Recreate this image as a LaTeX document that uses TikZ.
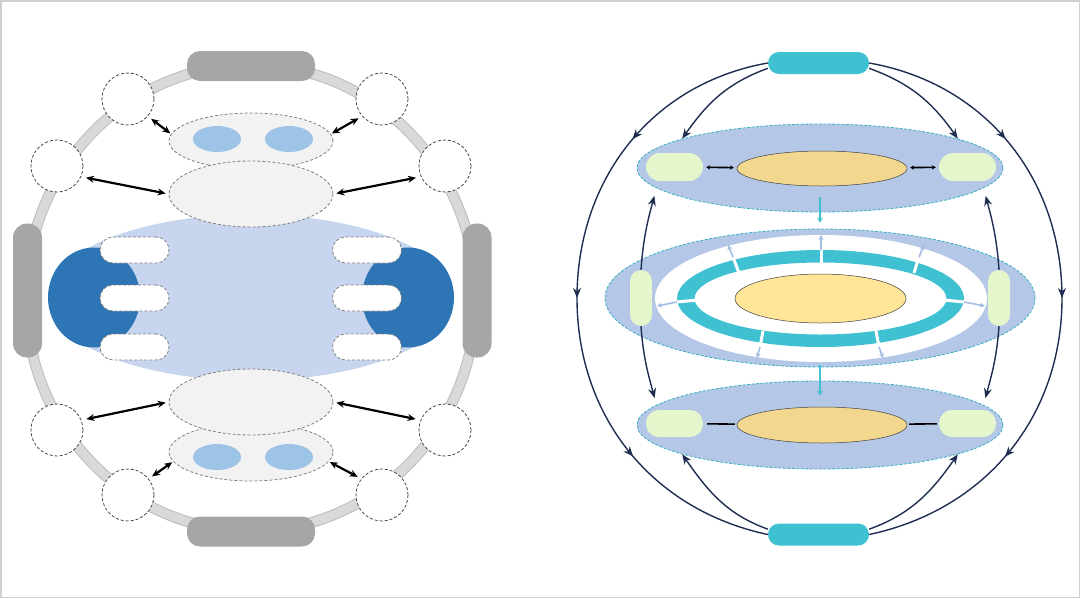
\documentclass[tikz,border=0pt]{standalone}
\usepackage{tikz}
\usetikzlibrary{shapes.geometric, arrows.meta, positioning, decorations.markings}
\definecolor{ringGray}{HTML}{D9D9D9}
\definecolor{ringEdge}{HTML}{BDBDBD}
\definecolor{barGray}{HTML}{A6A6A6}
\definecolor{circEdge}{HTML}{3F4656}
\definecolor{hubFill}{HTML}{F2F2F2}
\definecolor{hubEdge}{HTML}{808080}
\definecolor{dotBlue}{HTML}{9DC3E6}
\definecolor{lightBody}{HTML}{C7D6EE}
\definecolor{darkBody}{HTML}{2E75B6}
\definecolor{cyanMain}{HTML}{40C1D1}
\definecolor{discFill}{HTML}{B4C7E7}
\definecolor{discEdge}{HTML}{39AFC4}
\definecolor{padGreen}{HTML}{E5F6CC}
\definecolor{coreGold}{HTML}{F2D78E}
\definecolor{coreLight}{HTML}{FFE597}
\definecolor{spokeBlue}{HTML}{A3BEE3}
\definecolor{navy}{HTML}{1F2E50}
\definecolor{frameGray}{HTML}{D0D0D0}

\begin{document}
\begin{tikzpicture}[x=1pt, y=1pt,
        circ/.style={circle, draw=circEdge, fill=white, dash pattern=on 3pt off 2pt, line width=0.8pt,
                     minimum size=52pt, inner sep=0pt},
        hub/.style={ellipse, draw=hubEdge, fill=hubFill, dash pattern=on 3pt off 2pt, line width=0.8pt,
                    minimum width=164pt, inner sep=0pt},
        dot/.style={ellipse, fill=dotBlue, minimum width=48pt, minimum height=26pt, inner sep=0pt},
        slot/.style={rectangle, rounded corners=13pt, draw=hubEdge, fill=white, dash pattern=on 3pt off 2pt,
                     line width=0.8pt, minimum width=69pt, minimum height=26pt, inner sep=0pt},
        bar/.style={rectangle, rounded corners=13pt, fill=barGray, inner sep=0pt},
        link/.style={{Stealth[length=8pt,width=7pt]}-{Stealth[length=8pt,width=7pt]}, line width=2.2pt, black},
        disc/.style={ellipse, draw=discEdge, fill=discFill, dash pattern=on 3pt off 1.5pt, line width=0.8pt, inner sep=0pt},
        core/.style={ellipse, draw=black!75, line width=0.5pt, inner sep=0pt},
        pad/.style={rectangle, fill=padGreen, inner sep=0pt},
        pole/.style={rectangle, rounded corners=11pt, fill=cyanMain, minimum width=101pt, minimum height=22pt, inner sep=0pt},
        pin/.style={{Stealth[length=4pt,width=4.5pt]}-{Stealth[length=4pt,width=4.5pt]}, line width=1.6pt, black},
        drop/.style={-{Stealth[length=5pt,width=6pt]}, line width=2.5pt, cyanMain},
        spoke/.style={-{Stealth[length=5pt,width=5pt]}, line width=1.6pt, spokeBlue},
        flow/.style={-{Stealth[length=10pt,width=8pt]}, line width=1.4pt, navy},
        midarrows/.style={line width=1.4pt, navy, postaction={decorate}, decoration={markings,
                          mark=at position 0.24 with {\arrow{Stealth[length=10pt,width=8pt]}},
                          mark=at position 0.5 with {\arrow{Stealth[length=10pt,width=8pt]}},
                          mark=at position 0.76 with {\arrow{Stealth[length=10pt,width=8pt]}}}}
    ]
    \useasboundingbox (0,0) rectangle (1080,-598);
    \draw[frameGray, line width=1.5pt] (0.75,-0.75) rectangle (1079.25,-597.25);

    % left diagram
    \draw[ringEdge, line width=11pt] (251,-298) ellipse [x radius=225, y radius=233];
    \draw[ringGray, line width=9pt] (251,-298) ellipse [x radius=225, y radius=233];
    \node[bar, minimum width=128pt, minimum height=30pt] (capT) at (251,-66) {};
    \node[bar, minimum width=128pt, minimum height=30pt] (capB) at (251,-531.5) {};
    \node[bar, minimum width=29pt, minimum height=134pt, rounded corners=14pt] (capL) at (27.5,-290.5) {};
    \node[bar, minimum width=29pt, minimum height=134pt, rounded corners=14pt] (capR) at (477,-290.5) {};

    \node[circ] (cTL1) at (128,-99) {};
    \node[circ] (cTL2) at (57,-166) {};
    \node[circ] (cTR1) at (382,-99) {};
    \node[circ] (cTR2) at (445,-166) {};
    \node[circ] (cBL1) at (57,-430) {};
    \node[circ] (cBL2) at (128,-495) {};
    \node[circ] (cBR1) at (445,-430) {};
    \node[circ] (cBR2) at (382,-495) {};

    \fill[lightBody] (251,-297.5) ellipse [x radius=203, y radius=83];
    \fill[darkBody] (94,-297.5) ellipse [x radius=46, y radius=50];
    \fill[darkBody] (408,-297.5) ellipse [x radius=46, y radius=50];
    \foreach \i/\y in {1/250, 2/298, 3/347} {
        \node[slot] (sL\i) at (134.5,-\y) {};
        \node[slot] (sR\i) at (367,-\y) {};
    }

    \node[hub, minimum height=56pt] (eT1) at (251,-141) {};
    \node[hub, minimum height=66pt] (eT2) at (251,-194) {};
    \node[hub, minimum height=58pt] (eB2) at (251,-452) {};
    \node[hub, minimum height=66pt] (eB1) at (251,-402) {};
    \node[dot] (dT1) at (217,-139) {};
    \node[dot] (dT2) at (289,-139) {};
    \node[dot] (dB1) at (217,-457) {};
    \node[dot] (dB2) at (289,-457) {};

    \draw[link, shorten <=4pt, shorten >=1pt] (cTL1.-41) -- (eT1.175);
    \draw[link, shorten <=5pt, shorten >=3pt] (cTL2.-24) -- (eT2.west);
    \draw[link, shorten <=4pt, shorten >=1pt] (cTR1.221) -- (eT1.5);
    \draw[link, shorten <=5pt, shorten >=3pt] (cTR2.204) -- (eT2.east);
    \draw[link, shorten <=5pt, shorten >=3pt] (cBL1.22) -- (eB1.west);
    \draw[link, shorten <=4pt, shorten >=1pt] (cBL2.38) -- (eB2.187);
    \draw[link, shorten <=5pt, shorten >=3pt] (cBR1.158) -- (eB1.east);
    \draw[link, shorten <=4pt, shorten >=1pt] (cBR2.142) -- (eB2.-7);

    % right diagram
    \node[disc, minimum width=366pt, minimum height=88pt] (dskT) at (820,-168) {};
    \node[disc, minimum width=430pt, minimum height=138pt] (dskM) at (820,-298) {};
    \node[disc, minimum width=366pt, minimum height=88pt] (dskB) at (820,-425) {};

    \fill[white] (821,-298.5) ellipse [x radius=166, y radius=63.5];
    \fill[cyanMain, even odd rule] (820.5,-298.5) ellipse [x radius=143.5, y radius=48.5]
        (820.5,-298.5) ellipse [x radius=126, y radius=36];
    \foreach \ax/\ay/\mx/\my/\bx/\by in {821/265/821/250/821/235, 739/273/733/257/728/245,
            914/273/919/257/924/245, 697/300/677/302/657/306, 944/300/964/302/985/306,
            763/331/760/347/757/358, 876/331/879/347/883/358} {
        \draw[white, line width=3pt] (\ax,-\ay) -- (\mx,-\my);
        \draw[spoke] (\mx,-\my) -- (\bx,-\by);
    }

    \node[core, fill=coreGold, minimum width=170pt, minimum height=35pt] (kT) at (822,-168.5) {};
    \node[core, fill=coreLight, minimum width=171pt, minimum height=49pt] (kM) at (820.5,-298.5) {};
    \node[core, fill=coreGold, minimum width=170pt, minimum height=36pt] (kB) at (822,-425) {};

    \node[pad, rounded corners=14pt, minimum width=57pt, minimum height=28pt] (pTL) at (674.5,-167) {};
    \node[pad, rounded corners=14pt, minimum width=57pt, minimum height=28pt] (pTR) at (967.5,-167) {};
    \node[pad, rounded corners=11pt, minimum width=22pt, minimum height=56pt] (pML) at (641,-298) {};
    \node[pad, rounded corners=11pt, minimum width=22pt, minimum height=56pt] (pMR) at (999,-298) {};
    \node[pad, rounded corners=13pt, minimum width=57pt, minimum height=27pt] (pBL) at (674.5,-423.5) {};
    \node[pad, rounded corners=13pt, minimum width=57pt, minimum height=27pt] (pBR) at (967.5,-423.5) {};

    \draw[pin, shorten <=3pt, shorten >=3pt] (pTL) -- (kT);
    \draw[pin, shorten <=3pt, shorten >=3pt] (kT) -- (pTR);
    \draw[black, line width=1.6pt, shorten <=4pt, shorten >=2pt] (pBL) -- (kB);
    \draw[black, line width=1.6pt, shorten <=2pt, shorten >=2pt] (kB) -- (pBR);

    \draw[drop, shorten <=-15pt, shorten >=6pt] (dskT.south) -- (dskM.north);
    \draw[drop, shorten <=-2pt, shorten >=-15pt] (dskM.south) -- (dskB.north);

    \node[pole] (poleT) at (818.5,-63) {};
    \node[pole] (poleB) at (818.5,-534.5) {};

    \coordinate (wL) at (577,-298);
    \coordinate (wR) at (1062,-298);
    \draw[midarrows] (poleT.west) to[out=190, in=90] (wL) to[out=-90, in=168] (poleB.west);
    \draw[midarrows] (poleT.east) to[out=-10, in=90] (wR) to[out=-90, in=12] (poleB.east);

    \draw[flow] (poleT.186) to[out=200, in=55] (dskT.168);
    \draw[flow] (poleT.-6) to[out=-20, in=125] (dskT.12);
    \draw[flow] (poleB.174) to[out=160, in=-55] (dskB.192);
    \draw[flow] (poleB.6) to[out=20, in=-125] (dskB.-12);

    \draw[flow, shorten >=8pt] (pML.north) to[out=86, in=-105] (dskT.187);
    \draw[flow, shorten >=8pt] (pMR.north) to[out=94, in=-75] (dskT.-7);
    \draw[flow, shorten >=7pt] (pML.south) to[out=-86, in=105] (dskB.173);
    \draw[flow, shorten >=7pt] (pMR.south) to[out=-94, in=75] (dskB.7);
\end{tikzpicture}
\end{document}
